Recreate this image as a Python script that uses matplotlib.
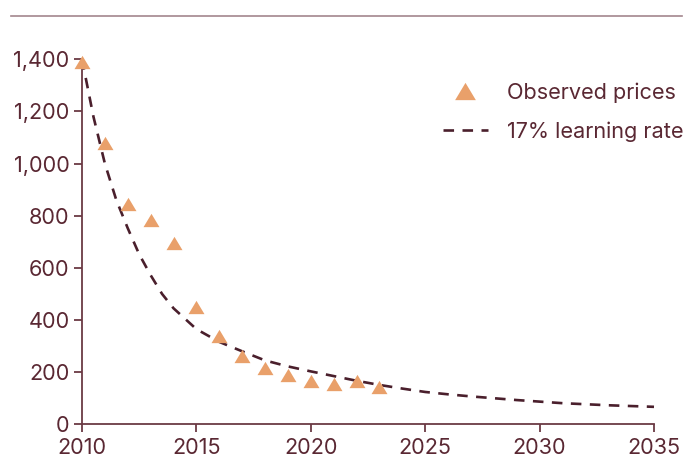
import matplotlib
matplotlib.use("Agg")
import matplotlib.pyplot as plt
from matplotlib.lines import Line2D

# Data
obs_years = [2010, 2011, 2012, 2013, 2014, 2015, 2016, 2017, 2018, 2019, 2020, 2021, 2022, 2023]
obs_prices = [1390, 1078, 846, 785, 695, 450, 340, 262, 215, 190, 165, 155, 165, 144]

curve_years = [2010, 2010.5, 2011, 2011.5, 2012, 2012.5, 2013, 2013.5, 2014, 2015, 2016, 2017,
               2018, 2019, 2020, 2021, 2022, 2023, 2024, 2025, 2026, 2027, 2028, 2029,
               2030, 2031, 2032, 2033, 2034, 2035]
curve_prices = [1400, 1180, 1000, 860, 752, 652, 572, 500, 445, 365, 316, 280,
                245, 222, 203, 185, 167, 151, 137, 124, 115, 107, 100, 93,
                87, 81, 77, 73, 70, 67]

x_ticks = [2010, 2015, 2020, 2025, 2030, 2035]
y_ticks = [0, 200, 400, 600, 800, 1000, 1200, 1400]

TEXT = "#5a2833"
AXIS = "#6b3a44"
ORANGE = "#e9a06a"
LINE = "#4a1f2c"
TOPLINE = "#a3868d"

plt.rcParams['font.family'] = ['Inter', 'DejaVu Sans']
plt.rcParams['font.size'] = 15.6

fig = plt.figure(figsize=(6.95, 4.65), dpi=100)
ax = fig.add_axes([82/695, 1-424.3/465, (654-82)/695, (424.3-59.3)/465])

tri = [(-1.2, -1), (1.2, -1), (0, 1), (-1.2, -1)]
ax.plot(curve_years, curve_prices, color=LINE, lw=1.9, dashes=(4.0, 3.2),
        label="17% learning rate", zorder=2)
ax.plot(obs_years, obs_prices, linestyle='none', marker=tri, markersize=11.5,
        color=ORANGE, markeredgewidth=0, label="Observed prices", zorder=3)

ax.set_xlim(2010, 2035)
ax.set_ylim(0, 1400)
ax.set_xticks(x_ticks)
ax.set_yticks(y_ticks)
ax.set_yticklabels([f"{v:,}" for v in y_ticks])

for s in ['top', 'right']:
    ax.spines[s].set_visible(False)
for s in ['left', 'bottom']:
    ax.spines[s].set_color(AXIS)
    ax.spines[s].set_linewidth(1.3)
ax.spines['left'].set_zorder(1)
ax.tick_params(axis='both', colors=AXIS, labelcolor=TEXT, length=6, width=1.3)
ax.tick_params(axis='y', pad=3)
ax.tick_params(axis='x', pad=4)
for line in ax.lines:
    line.set_clip_on(False)

handles, labels = ax.get_legend_handles_labels()
leg = ax.legend(handles[::-1], labels[::-1], loc='upper right', bbox_to_anchor=(1.085, 0.99),
                frameon=False, handlelength=2.1, handletextpad=0.85, labelspacing=0.85,
                markerscale=1.3, labelcolor=TEXT)

fig.add_artist(Line2D([11/695, 682/695], [1-15.7/465, 1-15.7/465], color=TOPLINE, lw=1.2))

fig.savefig("out.png", dpi=100)
